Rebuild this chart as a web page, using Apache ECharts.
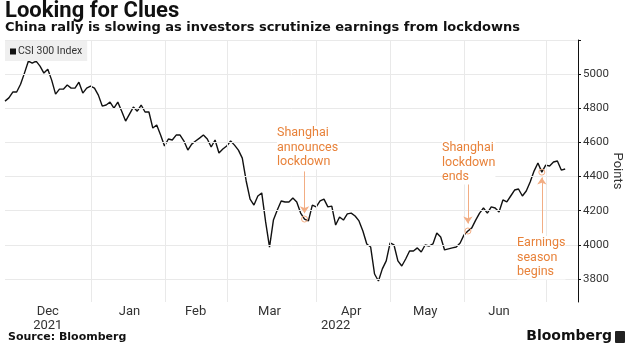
<!DOCTYPE html>
<html>
<head>
<meta charset="utf-8">
<script src="https://cdn.jsdelivr.net/npm/echarts@6/dist/echarts.min.js"></script>
<style>
  html, body { margin: 0; padding: 0; background: #fff; }
  #main { width: 632px; height: 353px; }
</style>
</head>
<body>
<div id="main"></div>
<script>
const chart = echarts.init(document.querySelector('#main'));

// CSI 300 close, one value per trading day, Dec 1 2021 - Jul 7 2022
const csi300 = [
    4842, 4861, 4895, 4895, 4941, 5006, 5076, 5064, 5076, 5047,
    5006, 5029, 4965, 4883, 4912, 4912, 4936, 4918, 4918, 4953,
    4889, 4918, 4930, 4918, 4877, 4813, 4819, 4836, 4801, 4836,
    4783, 4725, 4766, 4807, 4783, 4819, 4778, 4778, 4684, 4702,
    4643, 4579, 4620, 4614, 4643, 4643, 4608, 4555, 4590, 4608,
    4625, 4643, 4620, 4573, 4614, 4538, 4561, 4579, 4608, 4584,
    4555, 4508, 4374, 4268, 4233, 4286, 4304, 4134, 3987, 4145,
    4204, 4257, 4251, 4251, 4274, 4251, 4186, 4151, 4140, 4233,
    4222, 4257, 4268, 4222, 4227, 4116, 4163, 4145, 4181, 4186,
    4169, 4140, 4081, 4005, 3987, 3829, 3788, 3859, 3906, 4011,
    3999, 3906, 3876, 3917, 3964, 3964, 3982, 3958, 3999, 3993,
    4005, 4069, 4046, 3970, 3976, 3982, 3987, 4011, 4058, 4081,
    4099, 4145, 4186, 4216, 4186, 4222, 4216, 4192, 4263, 4251,
    4286, 4321, 4327, 4286, 4315, 4368, 4432, 4479, 4426, 4467,
    4462, 4485, 4491, 4438, 4444
];

// x axis: month names sit mid-month, gridlines sit between months (trading-day index)
const monthLabels = ['Dec\n2021', 'Jan', 'Feb', 'Mar', 'Apr', 'May', 'Jun'];
const monthLabelIdx = [11, 32, 49, 68, 89, 108, 127];
const yearLabels = ['\n2022'];
const yearLabelIdx = [85];
const monthBounds = [22.1, 41.1, 57.1, 80.1, 99.1, 118.1, 139.1];

// y axis
const yLabels = [3800, 4000, 4200, 4400, 4600, 4800, 5000];
const yTicks = [3800, 4000, 4200, 4400, 4600, 4800, 5000, 5200];

// annotations: index of the day, arrow start value, arrow end value
const notes = [
    { text: 'Shanghai\nannounces\nlockdown', idx: 77, from: 4430, to: 4185 },
    { text: 'Shanghai\nlockdown\nends', idx: 119, from: 4362, to: 4125 },
    { text: 'Earnings\nseason\nbegins', idx: 138, from: 4068, to: 4395 }
];

const FONT = "Roboto, sans-serif";
const ORANGE = '#e8823a';
const ARROW = '#f2ad83';

const xLabelMap = {};
monthLabelIdx.forEach((i, k) => { xLabelMap[i] = monthLabels[k]; });
yearLabelIdx.forEach((i, k) => { xLabelMap[i] = yearLabels[k]; });

const gridLines = yTicks.map(v => ({ yAxis: v }))
    .concat(monthBounds.map(b => ({ xAxis: b })));

let option = {
    animation: false,
    backgroundColor: '#fff',
    grid: { left: 5, right: 54, top: 40, bottom: 51, outerBoundsMode: 'none' },
    legend: {
        data: [{ name: 'CSI 300 Index', icon: 'rect' }],
        left: 5,
        top: 41,
        itemWidth: 6,
        itemHeight: 6,
        itemGap: 0,
        padding: [5, 5, 4, 5],
        backgroundColor: '#efefef',
        textStyle: { fontSize: 10.5, color: '#333', fontFamily: FONT, padding: [0, 0, 0, -3] },
        selectedMode: false
    },
    xAxis: {
        type: 'value',
        min: 0,
        max: 147.3,
        interval: 1,
        axisLine: { show: false },
        axisTick: { show: false },
        splitLine: { show: false },
        axisLabel: {
            formatter: v => xLabelMap[Math.round(v)] !== undefined && Math.abs(v - Math.round(v)) < 0.01 ? xLabelMap[Math.round(v)] : '',
            color: '#333',
            fontSize: 13,
            lineHeight: 14,
            margin: 3,
            fontFamily: FONT,
            showMinLabel: true,
            showMaxLabel: false
        }
    },
    yAxis: {
        type: 'value',
        position: 'right',
        min: 3665,
        max: 5200,
        name: 'Points',
        nameLocation: 'middle',
        nameRotate: -90,
        nameGap: 33,
        nameMoveOverlap: false,
        nameTextStyle: { fontSize: 13, color: '#333', fontFamily: FONT },
        axisLine: { show: true, onZero: false, lineStyle: { color: '#111', width: 1 } },
        axisTick: { show: true, length: 3, customValues: yTicks, lineStyle: { color: '#111' } },
        splitLine: { show: false },
        axisLabel: {
            customValues: yLabels,
            formatter: v => String(v),
            color: '#333',
            fontSize: 11.5,
            margin: 5,
            fontFamily: FONT
        }
    },
    series: [
        {
            name: 'grid',
            type: 'line',
            data: [],
            z: 1,
            silent: true,
            markLine: {
                silent: true,
                symbol: 'none',
                label: { show: false },
                lineStyle: { color: '#e9e9e9', width: 1, type: 'solid' },
                data: gridLines
            }
        },
        {
            name: 'CSI 300 Index',
            type: 'line',
            data: csi300.map((v, i) => [i, v]),
            showSymbol: false,
            z: 3,
            itemStyle: { color: '#111' },
            lineStyle: { color: '#111', width: 1.4 },
            markLine: {
                silent: true,
                symbol: ['none', 'arrow'],
                symbolSize: 7,
                label: { show: false },
                lineStyle: { color: ARROW, width: 1, type: 'solid' },
                data: notes.map(n => [{ coord: [n.idx, n.from] }, { coord: [n.idx, n.to] }])
            },
            markPoint: {
                silent: true,
                symbol: 'circle',
                symbolSize: 6,
                label: { show: false },
                itemStyle: { color: 'rgba(0,0,0,0)', borderColor: ARROW, borderWidth: 1 },
                data: notes.map(n => ({ coord: [n.idx, csi300[n.idx]] }))
            }
        }
    ],
    graphic: [
        { type: 'text', left: 5, top: 0, z: 100, style: { text: 'Looking for Clues', font: "bold 22px Roboto, sans-serif", fill: '#111' } },
        { type: 'text', left: 5, top: 21, z: 100, style: { text: 'China rally is slowing as investors scrutinize earnings from lockdowns', font: "bold 13px 'DejaVu Sans', sans-serif", fill: '#111' } },
        { type: 'text', left: 277, top: 126, z: 100, style: { text: notes[0].text, font: '12.5px ' + FONT, fill: ORANGE, lineHeight: 14.5, backgroundColor: '#fff' } },
        { type: 'text', left: 442, top: 141, z: 100, style: { text: notes[1].text, font: '12.5px ' + FONT, fill: ORANGE, lineHeight: 14.5, backgroundColor: '#fff' } },
        { type: 'text', left: 517, top: 236, z: 100, style: { text: notes[2].text, font: '12.5px ' + FONT, fill: ORANGE, lineHeight: 14.5, backgroundColor: '#fff' } },
        { type: 'text', left: 8, top: 332, z: 100, style: { text: 'Source: Bloomberg', font: "bold 11px 'DejaVu Sans', sans-serif", fill: '#111' } },
        { type: 'text', right: 20, top: 329, z: 100, style: { text: 'Bloomberg', font: "bold 14px 'DejaVu Sans', sans-serif", fill: '#111' } },
        { type: 'rect', right: 7, top: 331, z: 100, shape: { width: 10, height: 12, r: 1 }, style: { fill: '#222' } }
    ]
};

chart.setOption(option);
</script>
</body>
</html>
